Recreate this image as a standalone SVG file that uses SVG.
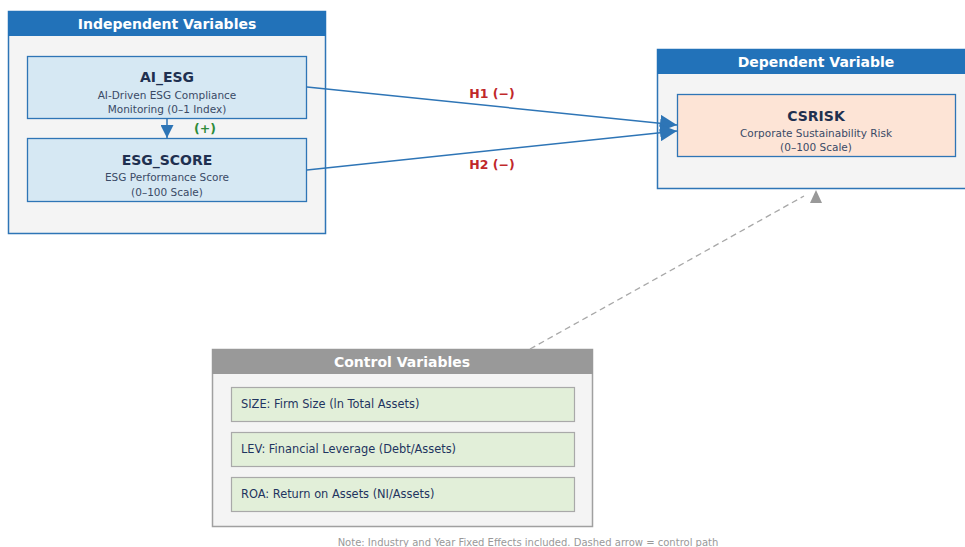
<svg xmlns="http://www.w3.org/2000/svg" width="965" height="547" viewBox="0 0 965 547">
<defs>
<style>
text{font-family:"DejaVu Sans","Liberation Sans",sans-serif;}
.panel{fill:#f4f4f4;stroke:#2e75b6;stroke-width:1.5}
.gpanel{fill:#f4f4f4;stroke:#a0a0a0;stroke-width:1.5}
.hdr{fill:#2272b9}
.ghdr{fill:#999999}
.htxt{fill:#ffffff;font-weight:bold;font-size:14px;text-anchor:middle}
.node{fill:#d6e8f3;stroke:#2e75b6;stroke-width:1.3}
.dnode{fill:#fde4d6;stroke:#2e75b6;stroke-width:1.3}
.cnode{fill:#e2efd9;stroke:#a9a9a9;stroke-width:1.2}
.ttl{fill:#1f3050;font-weight:bold;font-size:14px;text-anchor:middle}
.sub{fill:#3a4a66;font-size:10.5px;text-anchor:middle}
.ctl{fill:#1f3460;font-size:11.4px}
.edge{stroke:#2e75b6;stroke-width:1.5;fill:none}
.red{fill:#c0282a;font-weight:bold;font-size:12.5px;text-anchor:middle}
</style>
<marker id="ab" viewBox="0 0 10 10" refX="10" refY="5" markerWidth="13" markerHeight="13" markerUnits="userSpaceOnUse" orient="auto">
<path d="M0,0 L10,5 L0,10 z" fill="#2e75b6"/>
</marker>
<marker id="abl" viewBox="0 0 10 10" refX="10" refY="5" markerWidth="17" markerHeight="17" markerUnits="userSpaceOnUse" orient="auto">
<path d="M0,0 L10,5 L0,10 z" fill="#2e75b6"/>
</marker>
</defs>
<rect width="965" height="547" fill="#ffffff"/>

<g id="independent-panel">
<rect class="panel" x="8.5" y="11.5" width="317" height="222"/>
<rect class="hdr" x="8" y="11" width="318" height="25"/>
<text class="htxt" x="167" y="29">Independent Variables</text>
</g>

<g id="dependent-panel">
<rect class="panel" x="657.5" y="49.5" width="315" height="139"/>
<rect class="hdr" x="657" y="49" width="310" height="25"/>
<text class="htxt" x="816" y="67">Dependent Variable</text>
</g>

<g id="control-panel">
<rect class="gpanel" x="212.5" y="349.5" width="380" height="177"/>
<rect class="ghdr" x="212" y="349" width="381" height="25"/>
<text class="htxt" x="402" y="367">Control Variables</text>
</g>

<g id="AI_ESG">
<rect class="node" x="27.5" y="56.5" width="279" height="62"/>
<text class="ttl" x="167" y="82">AI_ESG</text>
<text class="sub" x="167" y="99">AI-Driven ESG Compliance</text>
<text class="sub" x="167" y="113">Monitoring (0–1 Index)</text>
</g>

<g id="ESG_SCORE">
<rect class="node" x="27.5" y="138.5" width="279" height="63"/>
<text class="ttl" x="167" y="165">ESG_SCORE</text>
<text class="sub" x="167" y="181">ESG Performance Score</text>
<text class="sub" x="167" y="196">(0–100 Scale)</text>
</g>

<g id="CSRISK">
<rect class="dnode" x="677.5" y="94.5" width="278" height="62"/>
<text class="ttl" x="816" y="121">CSRISK</text>
<text class="sub" x="816" y="137">Corporate Sustainability Risk</text>
<text class="sub" x="816" y="151">(0–100 Scale)</text>
</g>

<g id="SIZE">
<rect class="cnode" x="231.5" y="387.5" width="343" height="34"/>
<text class="ctl" x="241" y="408">SIZE: Firm Size (ln Total Assets)</text>
</g>
<g id="LEV">
<rect class="cnode" x="231.5" y="432.5" width="343" height="34"/>
<text class="ctl" x="241" y="453">LEV: Financial Leverage (Debt/Assets)</text>
</g>
<g id="ROA">
<rect class="cnode" x="231.5" y="477.5" width="343" height="34"/>
<text class="ctl" x="241" y="498">ROA: Return on Assets (NI/Assets)</text>
</g>

<g id="connectors">
<line class="edge" x1="167" y1="119" x2="167" y2="138" marker-end="url(#ab)"/>
<text x="205" y="133" fill="#2e8b3a" font-weight="bold" font-size="12.5" text-anchor="middle">(+)</text>
<line class="edge" x1="307" y1="87" x2="677" y2="125" marker-end="url(#abl)"/>
<line class="edge" x1="307" y1="170" x2="677" y2="131" marker-end="url(#abl)"/>
<text class="red" x="492" y="98">H1 (−)</text>
<text class="red" x="492" y="169">H2 (−)</text>
<line x1="530" y1="349" x2="804" y2="196" stroke="#a8a8a8" stroke-width="1.3" stroke-dasharray="6,4"/>
<polygon points="816,190 810,203 822,203" fill="#999999"/>
</g>

<text x="528" y="546" fill="#999999" font-size="10" text-anchor="middle">Note: Industry and Year Fixed Effects included. Dashed arrow = control path</text>
</svg>
